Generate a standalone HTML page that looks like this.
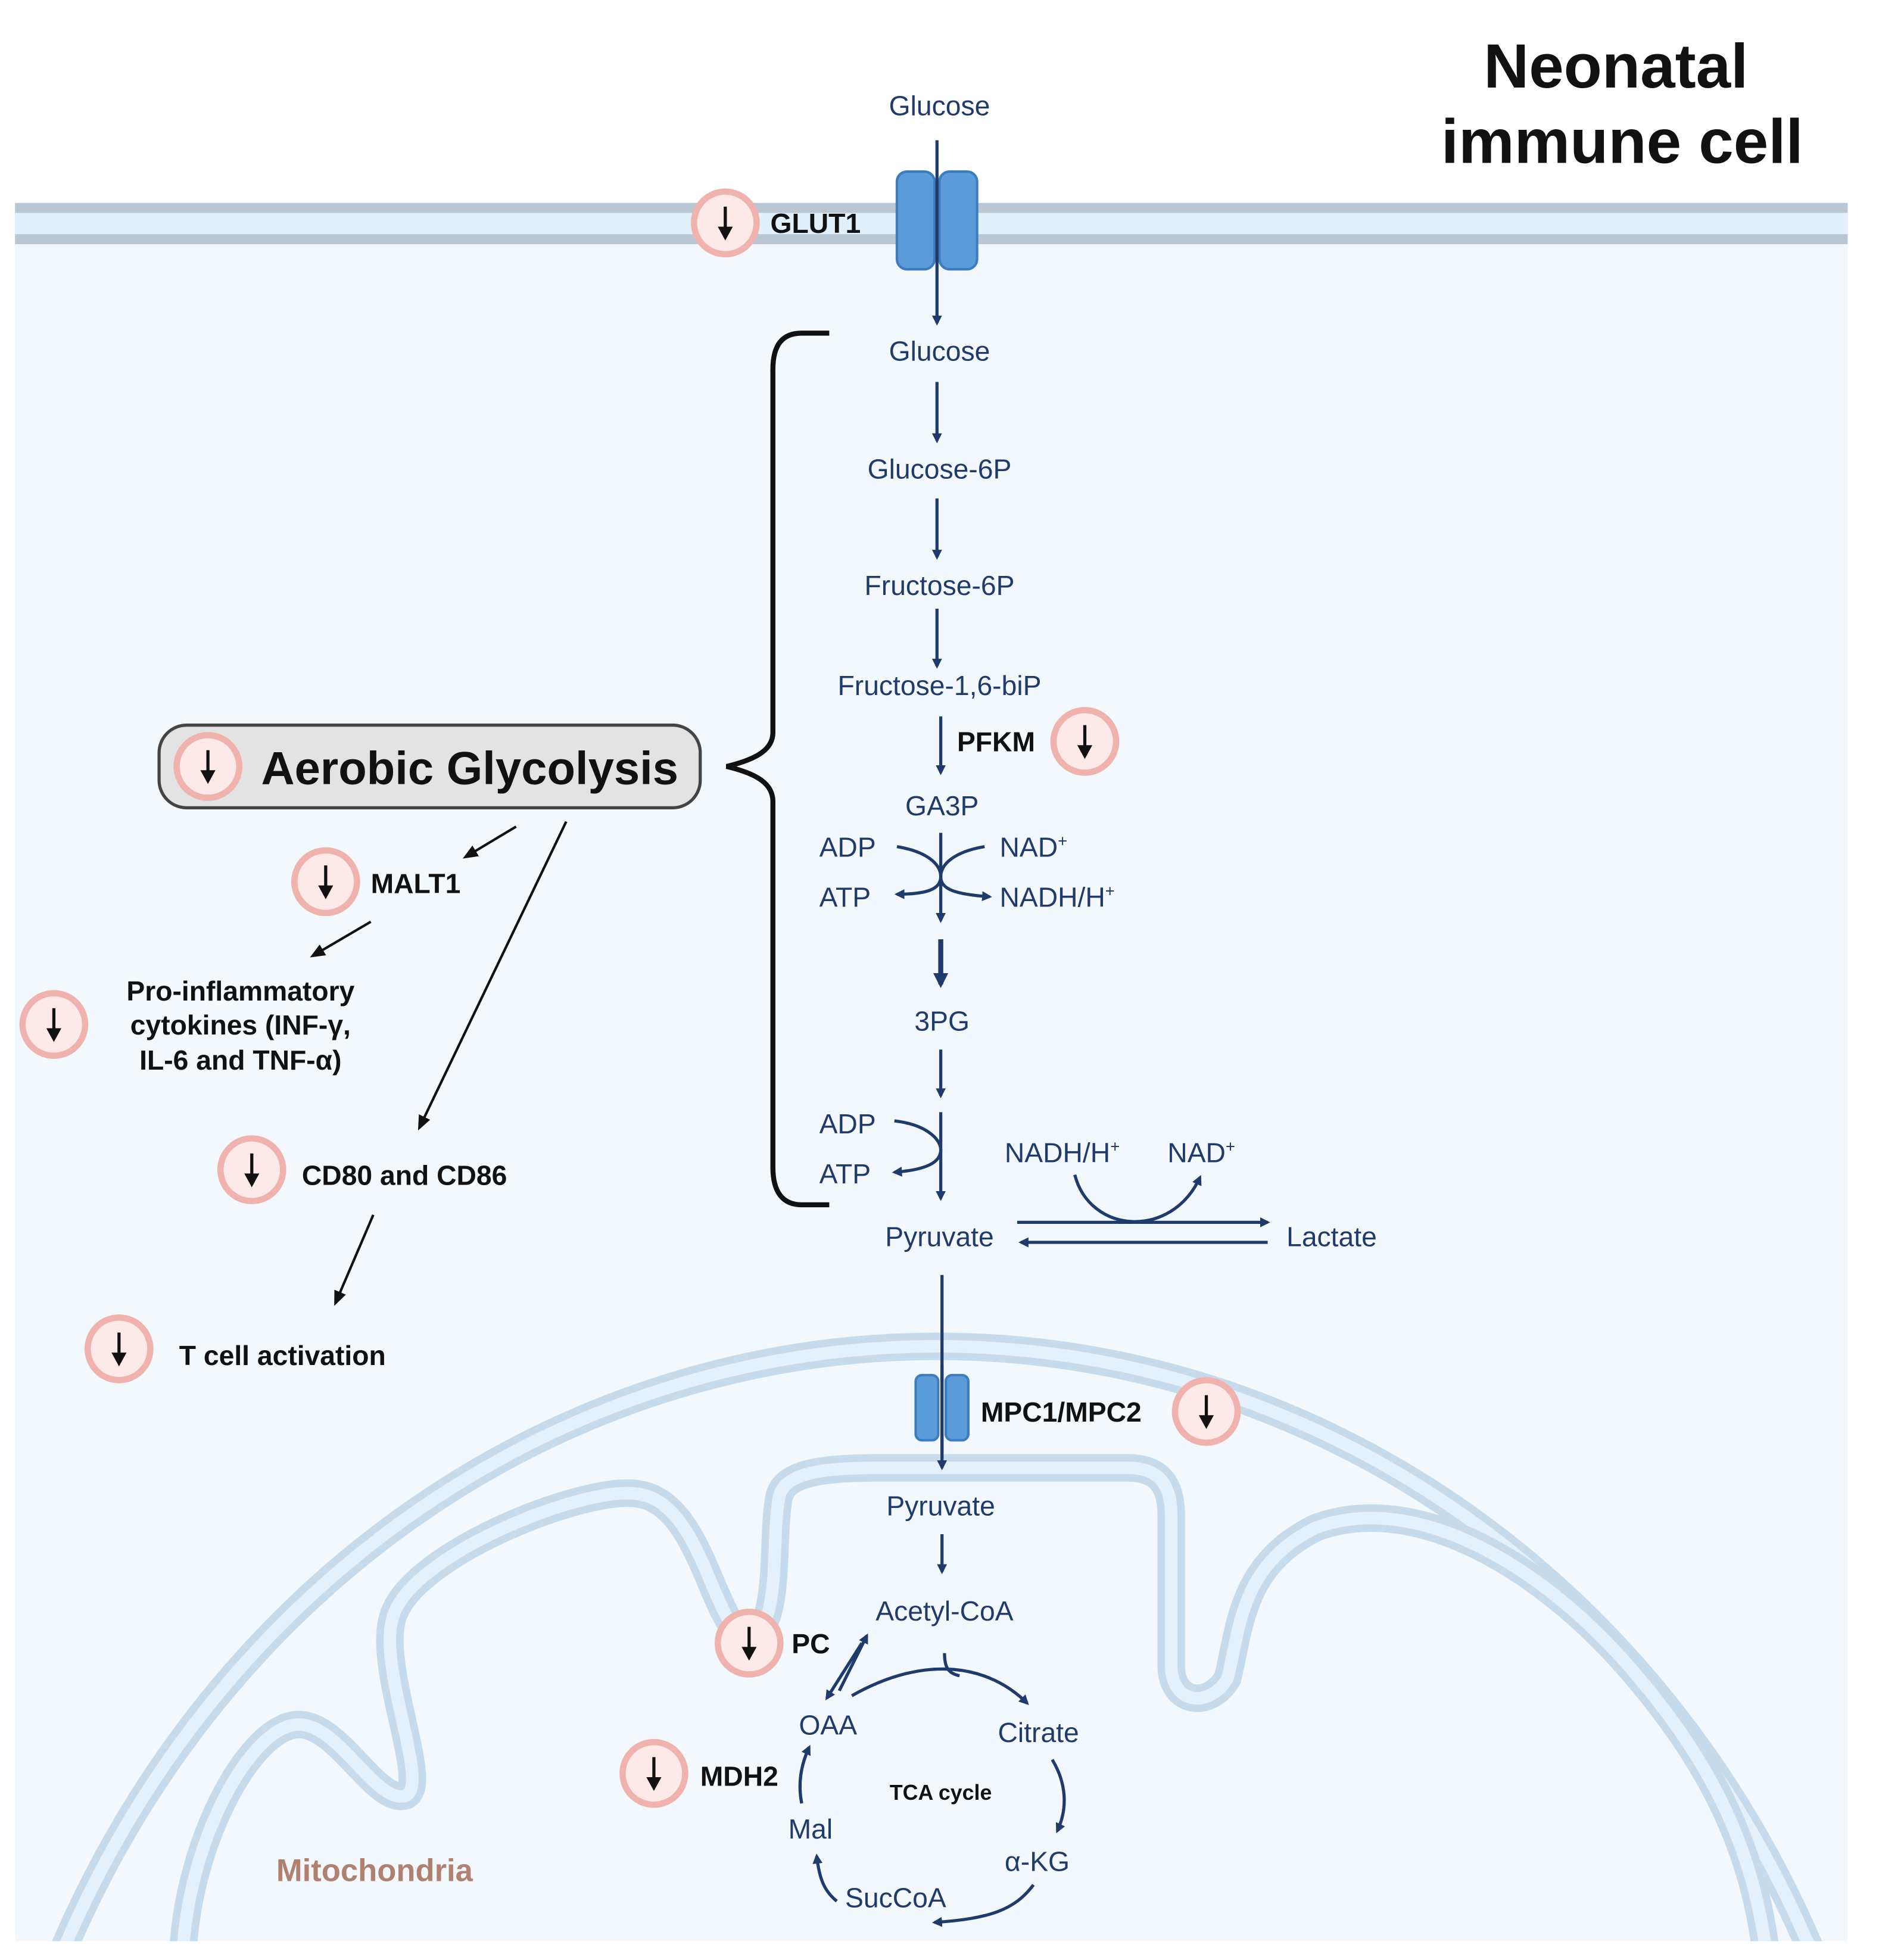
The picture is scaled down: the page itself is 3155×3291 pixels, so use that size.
<!DOCTYPE html>
<html><head><meta charset="utf-8"><style>
html,body{margin:0;padding:0;background:#fff;width:3155px;height:3291px;overflow:hidden;}
svg{display:block;}
text{font-family:"Liberation Sans",sans-serif;}
.b{fill:#1f3b6b;font-size:22px;}
.k{fill:#111;font-size:22px;font-weight:bold;}
</style></head><body>
<svg width="3155" height="3291" viewBox="0 0 1500 1565" preserveAspectRatio="none" xmlns="http://www.w3.org/2000/svg">
<defs>
<marker id="a" markerWidth="8" markerHeight="8" refX="6" refY="4" orient="auto" markerUnits="userSpaceOnUse" viewBox="0 0 8 8"><path d="M0,0 L8,4 L0,8z" fill="#1f3b6b"/></marker>
<marker id="ab" markerWidth="12" markerHeight="12" refX="9" refY="6" orient="auto" markerUnits="userSpaceOnUse" viewBox="0 0 12 12"><path d="M0,0 L12,6 L0,12z" fill="#1f3b6b"/></marker>
<marker id="kb" markerWidth="12" markerHeight="12" refX="9" refY="6" orient="auto" markerUnits="userSpaceOnUse" viewBox="0 0 12 12"><path d="M0,1 L12,6 L0,11z" fill="#111"/></marker>
<g id="dn"><circle r="25" fill="#fde9e7" stroke="#efb2ad" stroke-width="5"/><line x1="0" y1="-13" x2="0" y2="6" stroke="#111" stroke-width="2.5"/><path d="M-6,3 L6,3 L0,14z" fill="#111"/></g>
</defs>
<rect width="1500" height="1565" fill="#fff"/>
<rect x="12" y="180" width="1463" height="1370" fill="#f3f8fc"/>
<rect x="12" y="162" width="1463" height="33" fill="#b9c7d3"/>
<rect x="12" y="170" width="1463" height="17" fill="#e2f0fb"/>
<clipPath id="cp"><rect x="12" y="180" width="1463" height="1370"/></clipPath>
<g clip-path="url(#cp)" fill="none">
<ellipse cx="748" cy="1900" rx="767" ry="825" stroke="#c6dcec" stroke-width="22"/>
<ellipse cx="748" cy="1900" rx="767" ry="825" stroke="#e4f1fb" stroke-width="10"/>
<path d="M146,1560 C150,1470 200,1378 238,1377 C270,1376 300,1440 323,1434 C345,1428 300,1330 314,1290 C330,1240 470,1185 510,1193 C560,1200 570,1300 594,1305 C625,1310 615,1230 622,1195 C626,1178 650,1172 700,1172 L900,1172 C925,1172 935,1185 935,1210 L935,1330 C935,1360 965,1365 980,1340 C990,1300 990,1250 1050,1220 C1130,1190 1230,1250 1300,1330 C1370,1410 1400,1480 1410,1560" stroke="#c6dcec" stroke-width="22"/>
<path d="M146,1560 C150,1470 200,1378 238,1377 C270,1376 300,1440 323,1434 C345,1428 300,1330 314,1290 C330,1240 470,1185 510,1193 C560,1200 570,1300 594,1305 C625,1310 615,1230 622,1195 C626,1178 650,1172 700,1172 L900,1172 C925,1172 935,1185 935,1210 L935,1330 C935,1360 965,1365 980,1340 C990,1300 990,1250 1050,1220 C1130,1190 1230,1250 1300,1330 C1370,1410 1400,1480 1410,1560" stroke="#e4f1fb" stroke-width="10"/>
</g>
<rect x="0" y="1550" width="1500" height="15" fill="#fff"/>
<text x="1290" y="70" font-size="50" font-weight="bold" fill="#111" text-anchor="middle">Neonatal</text>
<text x="1295" y="130" font-size="50" font-weight="bold" fill="#111" text-anchor="middle">immune cell</text>
<rect x="716" y="137" width="30" height="78" rx="8" fill="#5b9bd8" stroke="#3d7cbf" stroke-width="2"/>
<rect x="750" y="137" width="30" height="78" rx="8" fill="#5b9bd8" stroke="#3d7cbf" stroke-width="2"/>
<use href="#dn" x="579" y="178"/>
<text class="k" x="615" y="186">GLUT1</text>
<g stroke="#1f3b6b" stroke-width="2.5" fill="none">
<line x1="748" y1="112" x2="748" y2="258" marker-end="url(#a)"/>
<line x1="748" y1="305" x2="748" y2="352" marker-end="url(#a)"/>
<line x1="748" y1="398" x2="748" y2="445" marker-end="url(#a)"/>
<line x1="748" y1="486" x2="748" y2="532" marker-end="url(#a)"/>
<line x1="751" y1="572" x2="751" y2="617" marker-end="url(#a)"/>
<line x1="751" y1="665" x2="751" y2="735" marker-end="url(#a)"/>
<path d="M716,676 C740,680 751,690 751,700 C751,710 740,714 716,714" marker-end="url(#a)"/>
<path d="M786,676 C762,680 751,690 751,700 C751,710 762,714 790,716" marker-end="url(#a)"/>
<line x1="751" y1="750" x2="751" y2="786" stroke-width="4" marker-end="url(#ab)"/>
<line x1="751" y1="838" x2="751" y2="875" marker-end="url(#a)"/>
<line x1="751" y1="888" x2="751" y2="957" marker-end="url(#a)"/>
<path d="M714,895 C740,898 751,910 751,918 C751,928 740,934 714,936" marker-end="url(#a)"/>
<line x1="812" y1="976" x2="1012" y2="976" marker-end="url(#a)"/>
<line x1="1012" y1="992" x2="815" y2="992" marker-end="url(#a)"/>
<path d="M858,938 C870,985 935,990 958,940" marker-end="url(#a)"/>
<line x1="752" y1="1018" x2="752" y2="1172" marker-end="url(#a)"/>
<line x1="752" y1="1225" x2="752" y2="1255" marker-end="url(#a)"/>
<line x1="670" y1="1350" x2="692" y2="1306" marker-end="url(#a)"/>
<line x1="688" y1="1312" x2="660" y2="1356" marker-end="url(#a)"/>
<path d="M680,1354 C740,1320 790,1330 820,1360" marker-end="url(#a)"/>
<path d="M754,1320 C754,1330 756,1336 766,1338"/>
<path d="M840,1405 C852,1425 852,1445 844,1462" marker-end="url(#a)"/>
<path d="M825,1505 C810,1525 790,1532 746,1535" marker-end="url(#a)"/>
<path d="M668,1518 C658,1510 654,1500 652,1482" marker-end="url(#a)"/>
<path d="M640,1440 C637,1425 639,1410 646,1395" marker-end="url(#a)"/>
</g>
<path d="M662,266 L640,266 C625,266 617,275 617,295 L617,585 C617,598 605,606 580,612 C605,618 617,626 617,640 L617,932 C617,952 625,962 640,962 L662,962" fill="none" stroke="#111" stroke-width="4"/>
<g class="b" text-anchor="middle">
<text x="750" y="92">Glucose</text>
<text x="750" y="288">Glucose</text>
<text x="750" y="382">Glucose-6P</text>
<text x="750" y="475">Fructose-6P</text>
<text x="750" y="555">Fructose-1,6-biP</text>
<text x="752" y="651">GA3P</text>
<text x="752" y="823">3PG</text>
<text x="750" y="995">Pyruvate</text>
<text x="751" y="1210">Pyruvate</text>
<text x="754" y="1294">Acetyl-CoA</text>
<text x="661" y="1385">OAA</text>
<text x="829" y="1391">Citrate</text>
<text x="828" y="1494">α-KG</text>
<text x="715" y="1523">SucCoA</text>
<text x="647" y="1468">Mal</text>
</g>
<g class="b">
<text x="654" y="684">ADP</text><text x="654" y="724">ATP</text>
<text x="798" y="684">NAD<tspan font-size="13" dy="-8">+</tspan></text>
<text x="798" y="724">NADH/H<tspan font-size="13" dy="-8">+</tspan></text>
<text x="654" y="905">ADP</text><text x="654" y="945">ATP</text>
<text x="802" y="928">NADH/H<tspan font-size="13" dy="-8">+</tspan></text>
<text x="932" y="928">NAD<tspan font-size="13" dy="-8">+</tspan></text>
<text x="1027" y="995">Lactate</text>
</g>
<text class="k" x="764" y="600">PFKM</text>
<use href="#dn" x="866" y="592"/>
<rect x="731" y="1098" width="18" height="52" rx="5" fill="#5b9bd8" stroke="#3d7cbf" stroke-width="2"/>
<rect x="755" y="1098" width="18" height="52" rx="5" fill="#5b9bd8" stroke="#3d7cbf" stroke-width="2"/>
<line x1="752" y1="1090" x2="752" y2="1160" stroke="#1f3b6b" stroke-width="2.5"/>
<text class="k" x="783" y="1135">MPC1/MPC2</text>
<use href="#dn" x="963" y="1127"/>
<use href="#dn" x="598" y="1312"/><text class="k" x="632" y="1320">PC</text>
<use href="#dn" x="522" y="1416"/><text class="k" x="559" y="1426">MDH2</text>
<text x="751" y="1437" font-size="17" font-weight="bold" fill="#111" text-anchor="middle">TCA cycle</text>
<text x="299" y="1502" font-size="25" font-weight="bold" fill="#b08070" text-anchor="middle">Mitochondria</text>
<rect x="127" y="579" width="432" height="66" rx="22" fill="#e3e3e3" stroke="#444" stroke-width="2.5"/>
<use href="#dn" x="166" y="612"/>
<text x="375" y="626" font-size="37" font-weight="bold" fill="#111" text-anchor="middle">Aerobic Glycolysis</text>
<g stroke="#111" stroke-width="2" fill="none">
<line x1="412" y1="660" x2="372" y2="684" marker-end="url(#kb)"/>
<line x1="452" y1="656" x2="335" y2="900" marker-end="url(#kb)"/>
<line x1="296" y1="736" x2="250" y2="763" marker-end="url(#kb)"/>
<line x1="298" y1="970" x2="268" y2="1040" marker-end="url(#kb)"/>
</g>
<use href="#dn" x="260" y="704"/><text class="k" x="296" y="713">MALT1</text>
<use href="#dn" x="43" y="818"/>
<g class="k" text-anchor="middle"><text x="192" y="799">Pro-inflammatory</text><text x="192" y="826">cytokines (INF-γ,</text><text x="192" y="854">IL-6 and TNF-α)</text></g>
<use href="#dn" x="201" y="934"/><text class="k" x="241" y="946">CD80 and CD86</text>
<use href="#dn" x="95" y="1077"/><text class="k" x="143" y="1090">T cell activation</text>
</svg>
</body></html>
